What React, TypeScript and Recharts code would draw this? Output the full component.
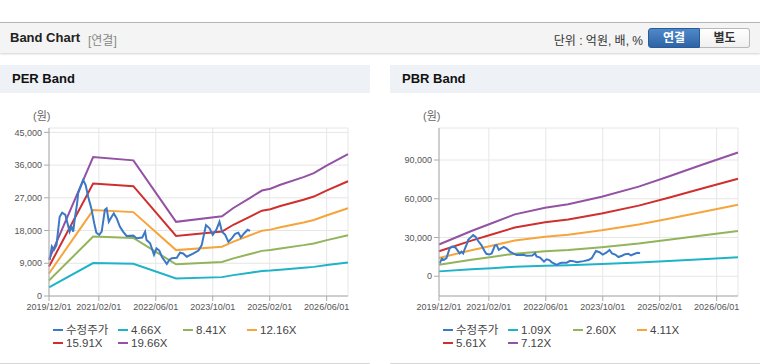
import { LineChart, Line, XAxis, YAxis, CartesianGrid } from "recharts"

const FONT = "'Liberation Sans', Arial, 'Noto Sans CJK KR', sans-serif"

// x values are months counted from 2019/12/01
const xTicks = [0, 14, 30, 46, 62, 78]
const xTickLabels = ["2019/12/01", "2021/02/01", "2022/06/01", "2023/10/01", "2025/02/01", "2026/06/01"]

// 수정주가 (same series on both charts)
const priceMonths = [
  0.2, 0.8, 1.4, 2.1, 3.0, 3.7, 4.6, 5.8, 6.3, 6.8, 7.2, 7.9, 8.2, 8.9, 9.6, 10.3, 11.0, 11.9,
  12.7, 13.3, 14.1, 14.8, 15.7, 16.2, 16.8, 17.6, 18.2, 19.0, 19.9, 20.8, 21.8, 23.7, 24.6, 26.2,
  27.0, 27.4, 28.4, 29.5, 30.2, 31.0, 31.7, 33.1, 33.8, 34.5, 35.9, 36.8, 37.7, 38.7, 40.6, 42.0,
  42.9, 43.6, 44.1, 45.1, 46.0, 47.0, 47.9, 48.6, 49.5, 50.4, 51.4, 52.3, 53.2, 53.9, 54.8, 55.8, 56.5,
]
const priceValues = [
  9900, 13600, 12700, 14000, 21800, 22900, 22300, 17700, 19100, 17700, 20900, 25500, 28300, 30100, 31900, 30500, 27300, 24100,
  20000, 17400, 16800, 17700, 23700, 24100, 20400, 21800, 22700, 21400, 19100, 17700, 16500, 16600, 15900, 16100,
  17700, 15400, 14500, 11300, 13100, 12500, 10800, 8800, 9900, 10400, 10500, 11900, 11700, 10800, 11700, 12500,
  14000, 17200, 19500, 18600, 16800, 18200, 20400, 17700, 16800, 14900, 15900, 17100, 17400, 16100, 17200, 18200, 17900,
]

// PER band
const perMonths = [0, 12.4, 23.7, 35.7, 48.6, 51.8, 56.5, 59.8, 62.2, 65, 71.5, 74.4, 78.1, 84]
const per466 = [2370, 9050, 8840, 4830, 5190, 5740, 6400, 6870, 6990, 7250, 7750, 8010, 8510, 9240]
const per841 = [4280, 16340, 15960, 8730, 9370, 10350, 11550, 12410, 12620, 13090, 13990, 14460, 15360, 16680]
const per1216 = [6190, 23630, 23070, 12620, 13550, 14970, 16700, 17940, 18250, 18930, 20220, 20910, 22200, 24120]
const per1591 = [8090, 30920, 30190, 16510, 17720, 19590, 21850, 23470, 23870, 24760, 26460, 27350, 29050, 31560]
const per1966 = [10000, 38200, 37300, 20400, 21900, 24200, 27000, 29000, 29500, 30600, 32700, 33800, 35900, 39000]
const perNames = ["4.66X", "8.41X", "12.16X", "15.91X", "19.66X"]
const perTicks = [0, 9000, 18000, 27000, 36000, 45000]

// PBR band
const pbrMonths = [0, 9.1, 14.8, 21.3, 29.8, 36.3, 45.7, 56.1, 64.5, 73.9, 84]
const pbr109 = [3770, 5360, 6280, 7330, 8130, 8530, 9430, 10620, 11820, 13210, 14670]
const pbr260 = [8980, 12780, 14970, 17490, 19390, 20340, 22500, 25340, 28190, 31520, 34990]
const pbr411 = [14200, 20200, 23670, 27650, 30650, 32150, 35560, 40060, 44560, 49810, 55300]
const pbr561 = [19380, 27580, 32310, 37750, 41840, 43890, 48540, 54690, 60830, 68000, 75490]
const pbr712 = [24600, 35000, 41000, 47900, 53100, 55700, 61600, 69400, 77200, 86300, 95800]
const pbrNames = ["1.09X", "2.60X", "4.11X", "5.61X", "7.12X"]
const pbrTicks = [0, 30000, 60000, 90000]

const priceColor = "#3b78c6"
const bandColors = ["#1fb3c8", "#92b45a", "#f5a53c", "#cf2f2f", "#9352a3"]

const toPoints = (months: number[], values: number[]) => months.map((m, i) => ({ m, v: values[i] }))

const fmt = (n: number) => n.toLocaleString("en-US")
const fmtX = (m: number) => xTickLabels[xTicks.indexOf(m)] ?? ""

type PanelProps = {
  left: number
  title: string
  months: number[]
  bands: number[][]
  names: string[]
  yDomain: [number, number]
  yTicks: number[]
}

function BandPanel({ left, title, months, bands, names, yDomain, yTicks }: PanelProps) {
  const legend = [{ name: "수정주가", color: priceColor }].concat(
    names.map((n, i) => ({ name: n, color: bandColors[i] }))
  )
  const cols = [53, 118, 183, 247]
  return (
    <div style={{ position: "absolute", left, top: 65, width: 370, height: 298, borderBottom: "1px solid #d6d6d6", background: "#fff" }}>
      <div style={{ height: 28, background: "#eef1f6", fontWeight: 700, fontSize: 13, color: "#111", lineHeight: "28px", paddingLeft: 12 }}>
        {title}
      </div>
      <div style={{ position: "absolute", left: 33, top: 45, fontSize: 11, lineHeight: "13px", color: "#666" }}>{"(원)"}</div>
      <div style={{ position: "absolute", left: 0, top: 35 }}>
        <LineChart width={370} height={220} margin={{ top: 28, right: 22, bottom: 0, left: 0 }}>
          <CartesianGrid stroke="#e6e6e6" />
          <XAxis
            dataKey="m"
            type="number"
            domain={[0, 84]}
            ticks={xTicks}
            interval={0}
            tickFormatter={fmtX}
            height={24}
            tickSize={5}
            tickMargin={3}
            stroke="#aaa"
            tick={{ fill: "#555", fontSize: 9, fontFamily: FONT }}
          />
          <XAxis xAxisId="t" orientation="top" type="number" domain={[0, 84]} height={0} tick={false} tickLine={false} stroke="#aaa" />
          <YAxis
            dataKey="v"
            type="number"
            domain={yDomain}
            ticks={yTicks}
            interval={0}
            tickFormatter={fmt}
            width={49}
            tickSize={5}
            tickMargin={2}
            stroke="#aaa"
            allowDataOverflow
            tick={{ fill: "#555", fontSize: 9, fontFamily: FONT }}
          />
          <YAxis yAxisId="r" orientation="right" width={0} tick={false} tickLine={false} stroke="#aaa" />
          {bands.map((b, i) => (
            <Line
              key={names[i]}
              data={toPoints(months, b)}
              dataKey="v"
              type="linear"
              stroke={bandColors[i]}
              strokeWidth={2}
              dot={false}
              isAnimationActive={false}
            />
          ))}
          <Line
            data={toPoints(priceMonths, priceValues)}
            dataKey="v"
            type="linear"
            stroke={priceColor}
            strokeWidth={2}
            dot={false}
            isAnimationActive={false}
          />
        </LineChart>
      </div>
      {legend.map((item, i) => (
        <div
          key={item.name}
          style={{
            position: "absolute",
            left: cols[i % 4],
            top: i < 4 ? 259 : 272,
            height: 12,
            lineHeight: "12px",
            display: "flex",
            alignItems: "center",
            fontSize: 11.5,
            color: "#444",
            fontFamily: FONT,
            whiteSpace: "nowrap",
          }}
        >
          <span style={{ display: "inline-block", width: 10, height: 2, background: item.color, marginRight: 3 }} />
          <span style={{ lineHeight: "12px" }}>{item.name}</span>
        </div>
      ))}
    </div>
  )
}

export default function App() {
  return (
    <div style={{ position: "relative", width: 760, height: 364, background: "#fff", fontFamily: FONT, overflow: "hidden" }}>
      <style>{"body{margin:0}"}</style>
      <div
        style={{
          position: "absolute",
          left: 0,
          top: 22,
          width: 760,
          height: 30,
          background: "#f4f4f4",
          borderTop: "1px solid #b5b5b5",
          boxShadow: "0 1px 2px rgba(0,0,0,0.18)",
        }}
      >
        <span style={{ position: "absolute", left: 10, top: 7, fontSize: 13, fontWeight: 700, color: "#222" }}>Band Chart</span>
        <span style={{ position: "absolute", left: 88, top: 8, fontSize: 12, color: "#888" }}>{"[연결]"}</span>
        <span style={{ position: "absolute", right: 117, top: 8, fontSize: 12, color: "#333" }}>{"단위 : 억원, 배, %"}</span>
        <div
          style={{
            position: "absolute",
            left: 648,
            top: 5,
            width: 52,
            height: 20,
            background: "linear-gradient(#4f88c9, #2e64a6)",
            border: "1px solid #2a5b99",
            borderRadius: "3px 0 0 3px",
            boxSizing: "border-box",
            color: "#fff",
            fontSize: 12,
            fontWeight: 700,
            textAlign: "center",
            lineHeight: "18px",
          }}
        >
          {"연결"}
        </div>
        <div
          style={{
            position: "absolute",
            left: 700,
            top: 5,
            width: 50,
            height: 20,
            background: "linear-gradient(#ffffff, #f0f0f0)",
            border: "1px solid #b8b8b8",
            borderLeft: "none",
            borderRadius: "0 3px 3px 0",
            boxSizing: "border-box",
            color: "#333",
            fontSize: 12,
            fontWeight: 700,
            textAlign: "center",
            lineHeight: "18px",
          }}
        >
          {"별도"}
        </div>
      </div>
      <BandPanel
        left={0}
        title="PER Band"
        months={perMonths}
        bands={[per466, per841, per1216, per1591, per1966]}
        names={perNames}
        yDomain={[0, 46200]}
        yTicks={perTicks}
      />
      <BandPanel
        left={390}
        title="PBR Band"
        months={pbrMonths}
        bands={[pbr109, pbr260, pbr411, pbr561, pbr712]}
        names={pbrNames}
        yDomain={[-15300, 114800]}
        yTicks={pbrTicks}
      />
    </div>
  )
}
